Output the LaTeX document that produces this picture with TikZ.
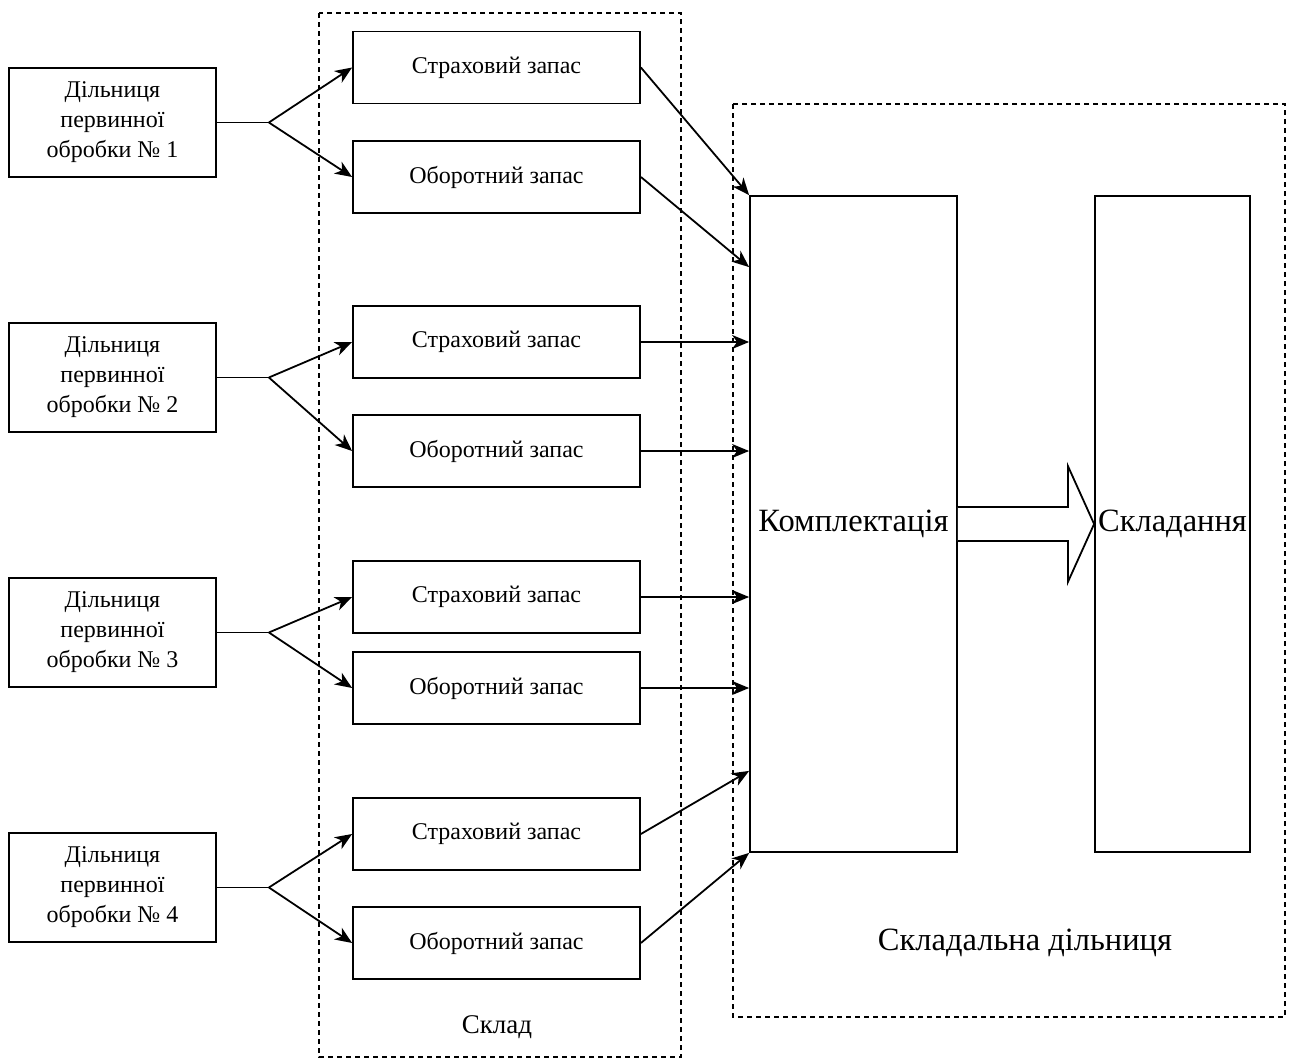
\documentclass[tikz,border=0pt]{standalone}
\usepackage{fontspec}
\setmainfont{Liberation Serif}
\usetikzlibrary{arrows.meta,calc}
\begin{document}
\begin{tikzpicture}[x=1pt,y=-1pt,
  every node/.style={inner sep=0pt},
  box/.style={draw, line width=1.8pt, align=center, font=\fontsize{24}{30}\selectfont},
  src/.style={box, minimum width=207pt, minimum height=109pt},
  stock/.style={box, minimum width=287pt, minimum height=72pt},
  big/.style={draw, line width=1.8pt, minimum width=207pt, minimum height=656pt},
  zone/.style={draw, line width=1.5pt, dash pattern=on 5pt off 4pt},
  conn/.style={line width=1.8pt},
  arr/.style={conn, -{Stealth[length=17pt, width=14pt, inset=5pt]}}
]
\useasboundingbox (0,0) rectangle (1291,1060);
% dashed zones
\draw[zone] (319,13) rectangle (681,1057);
\draw[zone] (733,104) rectangle (1285,1017);
\node[font=\fontsize{27}{30}\selectfont] (lsklad) at (497,1027) {Склад};
\node[font=\fontsize{32.5}{36}\selectfont] (lzone) at (1025,943) {Складальна дільниця};

% source boxes
\node[src] (d1) at (112.5,122.5) {Дільниця\\первинної\\обробки № 1};
\node[src] (d2) at (112.5,377.5) {Дільниця\\первинної\\обробки № 2};
\node[src] (d3) at (112.5,632.5) {Дільниця\\первинної\\обробки № 3};
\node[src] (d4) at (112.5,887.5) {Дільниця\\первинної\\обробки № 4};

% stock boxes
\node[stock] (s1) at (496.5,67.5) {Страховий запас};
\node[stock] (o1) at (496.5,177) {Оборотний запас};
\node[stock] (s2) at (496.5,342) {Страховий запас};
\node[stock] (o2) at (496.5,451) {Оборотний запас};
\node[stock] (s3) at (496.5,597) {Страховий запас};
\node[stock] (o3) at (496.5,688) {Оборотний запас};
\node[stock] (s4) at (496.5,834) {Страховий запас};
\node[stock] (o4) at (496.5,943) {Оборотний запас};

% assembly boxes
\node[big, font=\fontsize{32.5}{36}\selectfont] (komp) at (853.5,524) {Комплектація};
\node[big, minimum width=155pt] (skl) at (1172.5,524) {};
\node[font=\fontsize{32.5}{36}\selectfont] (lskl) at (1172.5,524) {Складання};

% branch points
\coordinate (b1) at ($(d1.east)+(52,0)$);
\coordinate (b2) at ($(d2.east)+(52,0)$);
\coordinate (b3) at ($(d3.east)+(52,0)$);
\coordinate (b4) at ($(d4.east)+(52,0)$);
\foreach \i in {1,2,3,4}{
  \draw[conn] (d\i.east) -- (b\i);
  \draw[arr] (b\i) -- (s\i.west);
  \draw[arr] (b\i) -- (o\i.west);
}

% targets on Komplektatsiia
\coordinate (t1) at ($(komp.north west)+(0,0)$);
\coordinate (t2) at ($(komp.north west)+(0,72)$);
\coordinate (t7) at ($(komp.south west)+(0,-82)$);
\coordinate (t8) at ($(komp.south west)+(0,0)$);
\draw[arr] (s1.east) -- (t1);
\draw[arr] (o1.east) -- (t2);
\draw[arr] (s2.east) -- (s2.east -| komp.west);
\draw[arr] (o2.east) -- (o2.east -| komp.west);
\draw[arr] (s3.east) -- (s3.east -| komp.west);
\draw[arr] (o3.east) -- (o3.east -| komp.west);
\draw[arr] (s4.east) -- (t7);
\draw[arr] (o4.east) -- (t8);

% hollow block arrow
\draw[line width=1.8pt, fill=white, line join=miter]
  ($(komp.east)+(0,-17)$) -- ++(110,0) -- ++(0,-41) -- ($(skl.west)$) --
  ($(komp.east)+(110,58)$) -- ++(0,-41) -- ($(komp.east)+(0,17)$);
\end{tikzpicture}
\end{document}
